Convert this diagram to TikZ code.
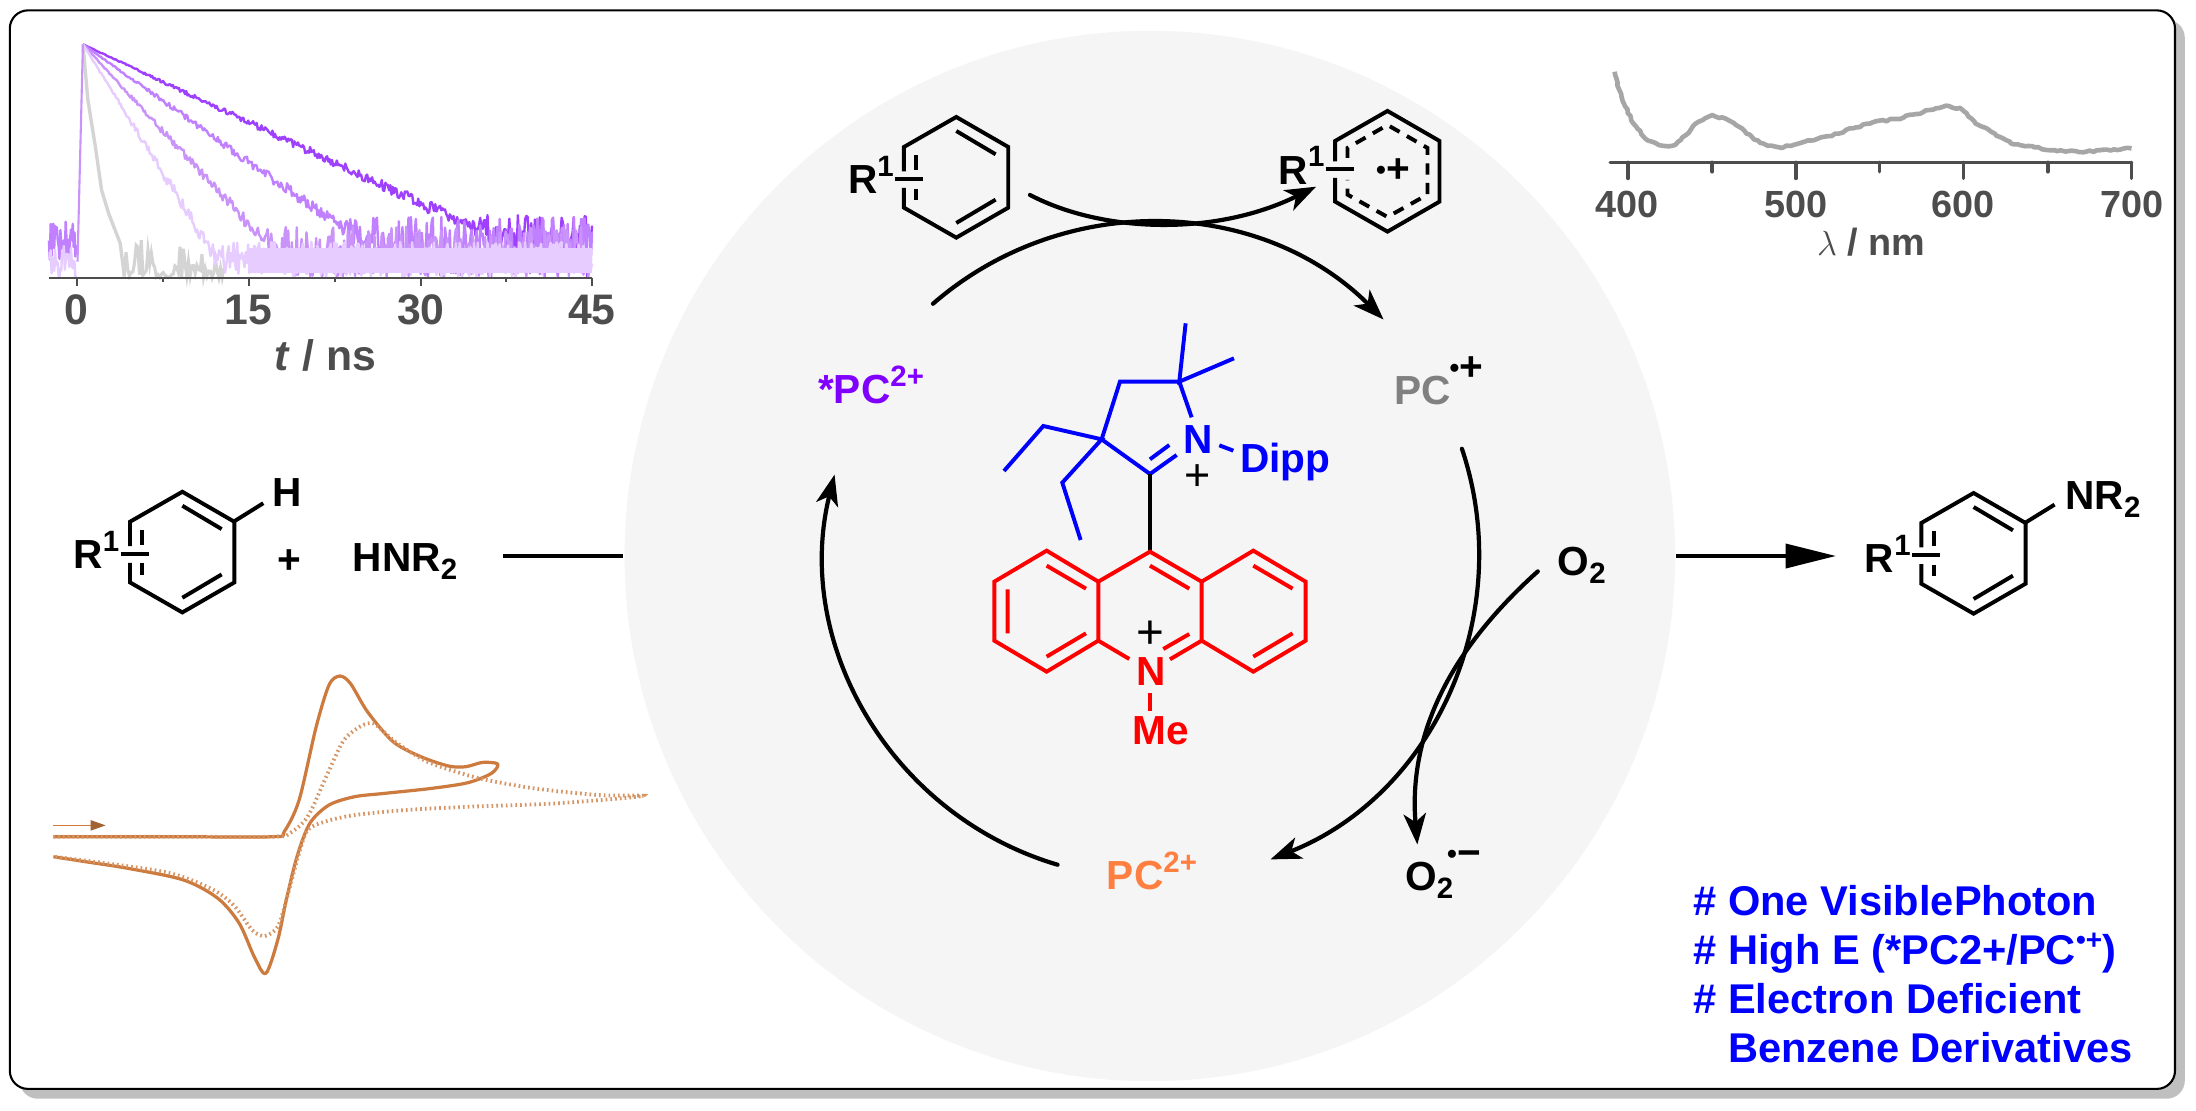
\documentclass[tikz,border=0pt]{standalone}
\usepackage{fontspec}
\setmainfont{Liberation Sans}
\usetikzlibrary{arrows.meta,decorations.pathmorphing}
\definecolor{pcpurple}{HTML}{8000FF}
\definecolor{pcorange}{HTML}{FF7F40}
\definecolor{pcgray}{HTML}{808080}
\definecolor{axisgray}{HTML}{4D4D4D}
\definecolor{cvbrown}{HTML}{CC7A3D}
\definecolor{decaydark}{HTML}{A040FF}
\definecolor{decaymid}{HTML}{C080FF}
\definecolor{decaysoft}{HTML}{C993FA}
\definecolor{decaylight}{HTML}{E6CCFF}
\newcommand{\labfont}{\fontsize{29}{35}\selectfont\bfseries}
\newcommand{\plotfont}{\fontsize{30.5}{36}\selectfont\bfseries}
\newcommand{\upidx}[1]{\raisebox{.42em}{\fontsize{21}{21}\selectfont #1}}
\newcommand{\loidx}[1]{\raisebox{-.2em}{\fontsize{21}{21}\selectfont #1}}
\newcommand{\raddot}{\raisebox{2pt}{\fontsize{20}{20}\selectfont •}}
\tikzset{
  lab/.style = {inner sep=0pt, anchor=base west, font=\labfont},
  bond/.style = {line width=2.8pt, line join=miter},
  cyc/.style = {line width=3pt, line cap=round, -{Stealth[length=22pt,width=16pt,inset=6pt]}},
  axisline/.style = {line width=1.5pt, axisgray},
  decayline/.style = {line width=1.7pt, line join=round}
}
% six ring with its R1 crossing, (0,0) is the ring centre
\newcommand{\arene}[1]{
  \begin{scope}[shift={(#1)},x=.238pt,y=-.238pt]
    \draw[bond] (-157,-18) -- (-157,-91) -- (0,-181) -- (156,-91) -- (156,91) -- (0,181) -- (-157,91) -- (-157,32);
    \draw[bond] (-185,6) -- (-101,6);
    \draw[bond] (-120,-66) -- (-120,-21) (-120,34) -- (-120,69);
    \draw[bond] (0,-139) -- (118,-69) (0,137) -- (118,67);
  \end{scope}}
\newcommand{\decay}[3]{
  \draw[decayline,#1] plot[domain=200:1428,samples=420]
    (\x,{min(133+#2*(\x-200)*(1+(rnd-.5)*.08),#3+rnd*(833-#3))});}
\begin{document}
\begin{tikzpicture}[x=1pt,y=-1pt]
  \useasboundingbox (0,0) rectangle (1568,792.6);
  \fill[white] (0,0) rectangle (1568,792.6);
  % frame
  \fill[black!25,rounded corners=13pt] (14,14) rectangle (1560,784.5);
  \draw[fill=white,line width=1.5pt,rounded corners=13pt] (7,7.4) rectangle (1553,777.5);
  \fill[black!4] (821,397) circle [radius=375];

  % decay plot
  \pgfmathsetseed{7}
  \begin{scope}[x=.296pt,y=-.238pt]
    \draw[line width=2.4pt,black!17,line join=round] plot coordinates {(200,133) (212,300) (230,440) (245,570) (262,640) (290,730) (300,830)};
    \draw[line width=2.2pt,black!17] plot[domain=300:540,samples=60] (\x,{833-rnd*rnd*125});
    \decay{decaydark}{.585}{640}
    \decay{decaymid}{.88}{650}
    \decay{decaysoft}{1.35}{680}
    \fill[decaylight] (600,745) rectangle (1428,818);
    \decay{decaylight}{2}{725}
    \draw[decayline,decaymid] plot[domain=118:184,samples=32] (\x,{665+rnd*115});
    \draw[decayline,decaylight] plot[domain=118:184,samples=32] (\x,{735+rnd*98});
    \draw[line width=1.5pt,decaysoft] (187,785) -- (200,133);
    \draw[axisline] (118,833) -- (1428,833);
    \foreach \xp in {185,600,1015,1428} \draw[axisline] (\xp,833) -- (\xp,858);
    \foreach \xp in {393,808,1220} \draw[axisline] (\xp,833) -- (\xp,847);
    \foreach \xp/\ticklab in {185/0,600/15,1015/30,1428/45}
      \node[inner sep=0pt,font=\plotfont,text=axisgray] (dec\ticklab) at (\xp,930) {\ticklab};
    \node[inner sep=0pt,font=\plotfont,text=axisgray] (dectitle) at (785,1065) {\textit{t} / ns};
  \end{scope}

  % absorption plot
  \begin{scope}[shift={(1113.9,28.6)},x=.2824pt,y=-.238pt]
    \draw[line width=3.3pt,black!35,line join=round,decorate,decoration={random steps,segment length=2.5pt,amplitude=.7pt}]
      plot coordinates {(138,95) (150,150) (165,200) (185,250) (215,295) (250,315) (285,317) (305,300) (330,270) (350,245) (385,225) (430,243) (460,265) (490,298) (525,317) (565,322) (610,308) (680,288) (740,265) (790,247) (850,237) (900,222) (975,197) (1015,207) (1050,250) (1090,275) (1140,310) (1200,322) (1250,330) (1330,335) (1400,328) (1445,325)};
    \draw[line width=2.6pt,axisgray,line cap=round] (127,367) -- (1445,367);
    \foreach \xp in {172,596,1020,1445} \draw[line width=2.6pt,axisgray,line cap=round] (\xp,367) -- (\xp,415);
    \foreach \xp in {385,808,1233} \draw[line width=2.6pt,axisgray,line cap=round] (\xp,367) -- (\xp,395);
    \foreach \xp/\ticklab in {170/400,596/500,1020/600,1445/700}
      \node[inner sep=0pt,font=\fontsize{27}{30}\selectfont\bfseries,text=axisgray] (abs\ticklab) at (\xp,492) {\ticklab};
    \node[inner sep=0pt,font=\fontsize{27}{30}\selectfont\bfseries,text=axisgray] (abstitle) at (787,605) {$\lambda$ / nm};
  \end{scope}

  % voltammogram
  \begin{scope}[shift={(0,457)},x=.3051pt,y=-.238pt]
    \draw[line width=2.3pt,cvbrown,line join=round] plot[smooth,tension=.5] coordinates {(125,590) (400,590) (640,590) (665,575) (700,480) (740,260) (770,135) (795,108) (820,130) (860,215) (920,305) (985,350) (1050,378) (1090,380) (1130,367) (1165,372) (1150,400) (1095,428) (1010,445) (900,460) (830,470) (770,495) (725,550) (695,650) (670,780) (650,900) (622,1000) (595,950) (560,850) (510,775) (430,720) (300,685) (200,665) (125,650)};
    \draw[line width=2.7pt,cvbrown!80,dash pattern=on 1.2pt off 2.2pt] plot[smooth,tension=.5] coordinates {(125,590) (400,590) (640,590) (680,578) (720,530) (760,420) (800,310) (830,270) (860,250) (880,255) (930,310) (1000,365) (1080,400) (1140,420) (1250,445) (1400,465) (1505,468) (1300,490) (1100,500) (950,510) (830,525) (760,545) (720,570) (700,640) (670,780) (650,860) (620,888) (590,870) (550,800) (500,750) (400,700) (250,670) (125,650)};
    \draw[line width=1pt,cvbrown] (125,556) -- (215,556);
    \fill[cvbrown!80!black] (212,540) -- (247,556) -- (212,572) -- cycle;
  \end{scope}

  % cycle
  \coordinate (cyc) at (821,395);
  \draw[cyc] (cyc) ++(229:236) arc (229:315:236);
  \draw[cyc] (cyc) ++(-18.5:235) arc (-18.5:68.5:235);
  \draw[cyc] (cyc) ++(106.5:232) arc (106.5:194:232);
  \coordinate (subst) at (735.4,139.2);
  \coordinate (substend) at (939.7,133.3);
  \draw[cyc] (subst) .. controls (788,166.6) and (868,168.6) .. (substend);
  \coordinate (otwo) at (1098,408);
  \coordinate (otwoend) at (1012,603);
  \draw[cyc] (otwo) .. controls (1040,460) and (1005,520) .. (otwoend);
  \coordinate (lineleft) at (359,397);
  \coordinate (linemid) at (445,397);
  \coordinate (lineright) at (1197,397);
  \coordinate (lineend) at (1311,397);
  \draw[line width=3pt] (lineleft) -- (linemid);
  \draw[line width=3pt,-{Stealth[length=36pt,width=17pt,inset=0pt]}] (lineright) -- (lineend);

  % left reactants
  \arene{130.2,394.2}
  \draw[bond] (167.3,372.2) -- (188,359.3);
  \node[lab] (rleft) at (52.3,406) {R\upidx{1}};
  \node[lab] (hatom) at (194.7,361.8) {H};
  \node[inner sep=0pt,font=\labfont] (plus) at (206.6,401) {+};
  \node[lab] (amine) at (251.8,408.2) {HNR\loidx{2}};

  % right product
  \arene{1409.2,395.1}
  \draw[bond] (1446.3,373.1) -- (1467,360.3);
  \node[lab] (rright) at (1331.4,409) {R\upidx{1}};
  \node[lab] (nrtwo) at (1474.5,363.7) {NR\loidx{2}};

  % arene and its radical cation
  \arene{682.8,126.6}
  \node[lab] (rtop) at (605.3,138.5) {R\upidx{1}};
  \begin{scope}[shift={(990.7,122.3)},x=.238pt,y=-.238pt]
    \draw[bond] (-157,-30) -- (-157,-91) -- (0,-181) -- (156,-91) -- (156,91) -- (0,181) -- (-157,91) -- (-157,20);
    \draw[bond] (-185,-8) -- (-101,-8);
    \draw[bond,dash pattern=on 8pt off 6pt] (-120,-40) -- (-120,-70) -- (0,-139) -- (120,-70) -- (120,70) -- (0,137) -- (-120,70) -- (-120,26);
  \end{scope}
  \node[lab] (rrad) at (912.9,131.4) {R\upidx{1}};
  \node[inner sep=0pt,font=\labfont] (radtop) at (994.6,121.8) {\raddot +};

  % cycle labels
  \node[lab,text=pcpurple] (pcstar) at (584,288) {*PC\upidx{2+}};
  \node[lab,text=pcgray] (pcrad) at (995.5,288.8) {PC};
  \node[inner sep=0pt,font=\labfont] (pcradup) at (1047,263.3) {\raddot +};
  \node[lab,text=pcorange] (pcox) at (790.2,634.8) {PC\upidx{2+}};
  \node[lab] (oxygen) at (1112,411) {O\loidx{2}};
  \node[lab] (super) at (1003.2,636) {O\loidx{2}};
  \node[inner sep=0pt,font=\labfont] (superup) at (1045.3,612.9) {\raddot −};

  % catalyst
  \begin{scope}[shift={(678.3,214.2)},x=.238pt,y=-.238pt]
    \draw[bond,blue] (707,70) -- (688,245) -- (852,175);
    \draw[bond,blue] (725,352) -- (688,245) -- (510,245) -- (455,418) -- (600,522) -- (680,465);
    \draw[bond,blue] (600,478) -- (658,435) (808,436) -- (850,452);
    \draw[bond,blue] (162,513) -- (280,378) -- (455,418) -- (337,548) -- (392,720);
    \draw[bond] (600,522) -- (600,752);
    \draw[bond,red] (538,1077) -- (445,1022) -- (445,845) -- (600,755) -- (755,845) -- (755,1022) -- (660,1078);
    \draw[bond,red] (445,845) -- (290,752) -- (133,845) -- (133,1022) -- (290,1115) -- (445,1022);
    \draw[bond,red] (755,845) -- (910,752) -- (1067,845) -- (1067,1022) -- (910,1115) -- (755,1022);
    \draw[bond,red] (640,1047) -- (718,1002) (600,797) -- (718,866);
    \draw[bond,red] (290,797) -- (408,866) (173,868) -- (173,1000) (290,1070) -- (408,1000);
    \draw[bond,red] (910,797) -- (1028,866) (910,1070) -- (1028,1000);
    \draw[bond,red] (600,1180) -- (600,1232);
    \node[lab,text=blue] (nblue) at (700,462) {N};
    \node[lab,text=blue] (dipp) at (870,517) {Dipp};
    \node[inner sep=0pt,font=\fontsize{32}{32}\selectfont] (pblue) at (743,534) {+};
    \node[inner sep=0pt,font=\fontsize{34}{34}\selectfont] (pred) at (600,1003) {+};
    \node[lab,text=red] (nred) at (558,1158) {N};
    \node[lab,text=red] (methyl) at (546,1335) {Me};
  \end{scope}

  % notes
  \begin{scope}[shift={(1171,606.9)},x=.2532pt,y=-.238pt]
    \tikzset{note/.style={lab,font=\fontsize{29.7}{35}\selectfont\bfseries,text=blue}}
    \node[note] (noteone) at (150,197) {\# One VisiblePhoton};
    \node[note] (notetwo) at (150,345) {\# High E (*PC2+/PC\raisebox{.38em}{\fontsize{20}{20}\selectfont •+})};
    \node[note] (notethree) at (150,490) {\# Electron Deficient};
    \node[note] (notefour) at (248,637) {Benzene Derivatives};
  \end{scope}
\end{tikzpicture}
\end{document}
